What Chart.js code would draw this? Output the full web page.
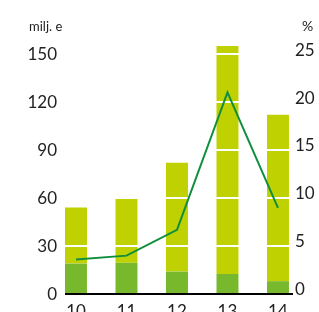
<!DOCTYPE html>
<html><head><meta charset="utf-8">
<script src="https://cdn.jsdelivr.net/npm/chart.js@4"></script>
<style>
html,body{margin:0;padding:0;background:#fff;overflow:hidden;width:319px;height:312px;}
#wrap{position:absolute;left:0;top:0;width:319px;height:330px;}
.unit{position:absolute;font-family:Lato,"Open Sans",sans-serif;color:#222;font-size:13px;}
</style></head>
<body>
<div id="wrap"><canvas id="c" width="319" height="330"></canvas></div>
<div class="unit" style="left:29px;top:18px;">milj. e</div>
<div class="unit" style="left:302px;top:17px;font-size:14px;">%</div>
<script>
const categories = ["10","11","12","13","14"];
const lowerPart = [19, 19.5, 14, 12.5, 8];
const upperPart = [35, 40, 68, 142.5, 104];
const percentLine = [3.1, 3.5, 6.2, 20.6, 8.5];
const leftTicks = [0, 30, 60, 90, 120, 150];
const rightTicks = [0, 5, 10, 15, 20, 25];

const FONT = {family: "Lato, 'Open Sans', sans-serif", size: 17};
const toPoints = arr => arr.map((v, i) => ({x: i, y: v}));

const gridPlugin = {
  id: 'whiteGrid',
  beforeDatasetDraw(chart, args) {
    if (args.index !== 2) return;
    const ctx = chart.ctx, y = chart.scales.y, a = chart.chartArea;
    ctx.save();
    ctx.strokeStyle = '#fff';
    ctx.lineWidth = 2;
    leftTicks.forEach(v => {
      if (v === 0) return;
      const py = Math.round(y.getPixelForValue(v));
      ctx.beginPath(); ctx.moveTo(a.left, py); ctx.lineTo(a.right, py); ctx.stroke();
    });
    ctx.restore();
  },
  afterDatasetsDraw(chart) {
    const ctx = chart.ctx, y = chart.scales.y;
    const meta = chart.getDatasetMeta(0);
    const first = meta.data[0], last = meta.data[meta.data.length - 1];
    const py = y.getPixelForValue(0);
    ctx.save();
    ctx.strokeStyle = '#000';
    ctx.lineWidth = 2;
    ctx.beginPath();
    ctx.moveTo(first.x - first.width / 2, py);
    ctx.lineTo(last.x + last.width / 2 + 4, py);
    ctx.stroke();
    ctx.restore();
  }
};

new Chart(document.getElementById('c'), {
  data: {
    datasets: [
      {type: 'bar', data: toPoints(lowerPart), backgroundColor: '#77b82c', yAxisID: 'y', stack: 's', order: 2,
       barPercentage: 0.87, categoryPercentage: 0.5},
      {type: 'bar', data: toPoints(upperPart), backgroundColor: '#bfd100', yAxisID: 'y', stack: 's', order: 2,
       barPercentage: 0.87, categoryPercentage: 0.5},
      {type: 'line', data: toPoints(percentLine), borderColor: '#0f8f3c', borderWidth: 2, pointRadius: 0,
       yAxisID: 'y1', order: 0, tension: 0, fill: false}
    ]
  },
  options: {
    responsive: false,
    animation: false,
    layout: {padding: {top: 38, left: 0, right: 0, bottom: 0}},
    plugins: {legend: {display: false}, tooltip: {enabled: false}},
    scales: {
      x: {
        type: 'linear', stacked: true, min: -0.376, max: 4.337, offset: false,
        grid: {display: false, drawTicks: false, offset: false}, border: {display: false},
        ticks: {font: FONT, color: '#222', padding: 7, maxRotation: 0,
                callback: v => categories[v] ?? ''},
        afterBuildTicks(s) { s.ticks = categories.map((c, i) => ({value: i})); },
        afterFit(s) { s.height = 36; }
      },
      y: {
        position: 'left', stacked: true, min: 0, max: 160,
        grid: {display: false, drawTicks: false}, border: {display: false},
        ticks: {font: FONT, color: '#222', padding: 0, labelOffset: 1},
        afterBuildTicks(s) { s.ticks = leftTicks.map(v => ({value: v})); },
        afterFit(s) { s.width = 57; }
      },
      y1: {
        position: 'right', min: -0.52, max: 26.3,
        grid: {display: false, drawTicks: false}, border: {display: false},
        ticks: {font: FONT, color: '#222', padding: 0},
        afterBuildTicks(s) { s.ticks = rightTicks.map(v => ({value: v})); },
        afterFit(s) { s.width = 24; }
      }
    }
  },
  plugins: [gridPlugin]
});
</script>
</body></html>
